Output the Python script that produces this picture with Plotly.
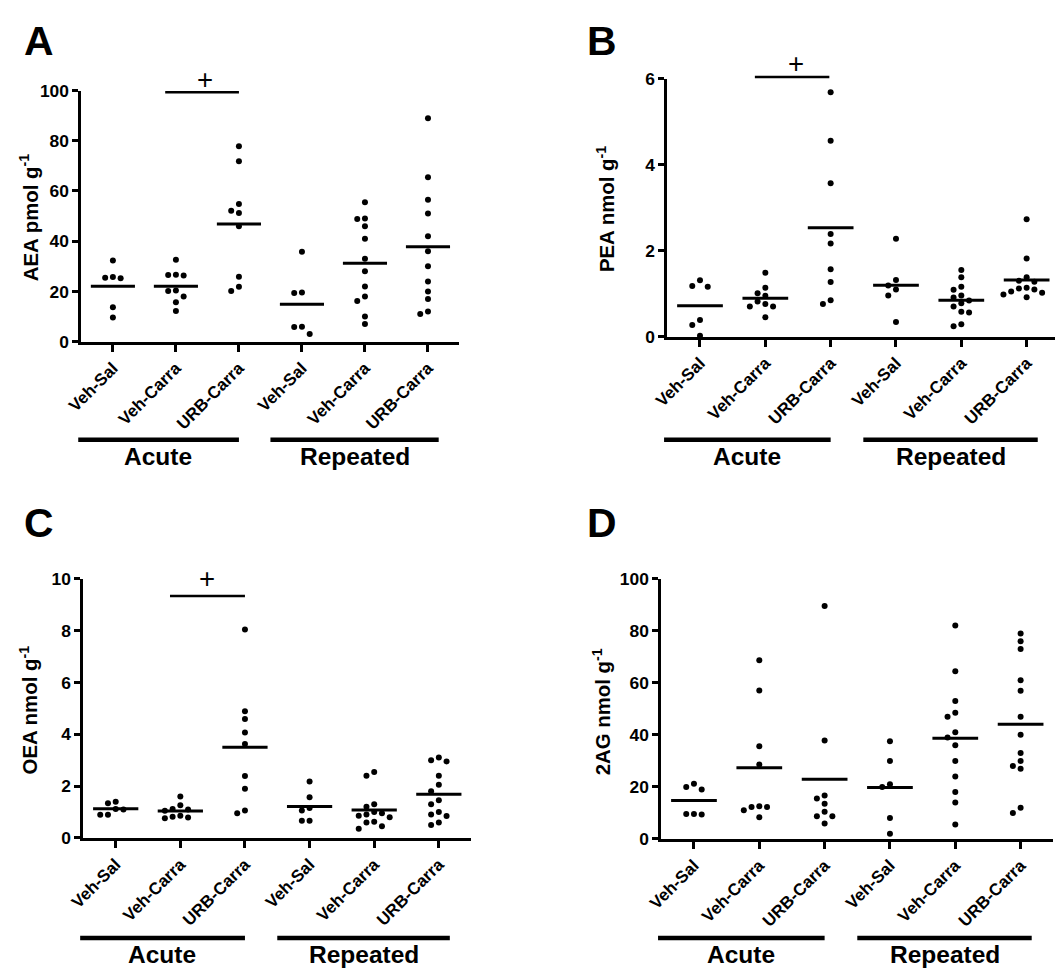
import plotly.graph_objects as go

W, H = 1063, 976
# the page is shown slightly shifted and scaled; positions below are given in
# target screen pixels and converted to figure pixels with this mapping
SHIFT_X, SCALE_X = 23.4, 0.98
SHIFT_Y, SCALE_Y = 18.5, 0.979
FONT = "Liberation Sans, Arial, sans-serif"

# ---------------- data ----------------
categories = ["Veh-Sal", "Veh-Carra", "URB-Carra", "Veh-Sal", "Veh-Carra", "URB-Carra"]
groups = ["Acute", "Repeated"]

aea_acute_vehsal = [32.3, 25.8, 25.5, 25.3, 13.7, 9.6]
aea_acute_vehcarra = [32.6, 26.6, 26.5, 26.3, 20.4, 20.2, 18.0, 15.7, 12.2]
aea_acute_urbcarra = [77.8, 71.8, 54.8, 52.1, 51.2, 46.0, 25.9, 21.9, 20.2]
aea_rep_vehsal = [35.8, 19.6, 19.4, 5.9, 5.8, 3.1]
aea_rep_vehcarra = [55.5, 49.0, 48.8, 46.0, 41.0, 33.0, 28.0, 22.0, 18.0, 16.2, 10.0, 7.0]
aea_rep_urbcarra = [89.0, 65.5, 56.5, 51.0, 42.0, 36.0, 30.0, 24.0, 20.0, 17.0, 12.0, 11.0]

pea_acute_vehsal = [1.31, 1.18, 1.16, 0.39, 0.27, 0.02]
pea_acute_vehcarra = [1.49, 1.14, 1.01, 0.95, 0.82, 0.76, 0.70, 0.70, 0.45]
pea_acute_urbcarra = [5.69, 4.56, 3.57, 2.39, 2.17, 1.57, 1.27, 0.85, 0.76]
pea_rep_vehsal = [2.28, 1.32, 1.19, 1.10, 0.96, 0.34]
pea_rep_vehcarra = [1.55, 1.38, 1.16, 1.09, 0.96, 0.91, 0.84, 0.78, 0.70, 0.58, 0.56, 0.29, 0.24]
pea_rep_urbcarra = [2.73, 1.82, 1.38, 1.30, 1.28, 1.14, 1.12, 1.10, 1.05, 1.02, 0.98, 0.92]

oea_acute_vehsal = [1.40, 1.34, 1.12, 1.10, 0.89, 0.89]
oea_acute_vehcarra = [1.60, 1.26, 1.12, 1.10, 1.05, 0.86, 0.82, 0.79, 0.76]
oea_acute_urbcarra = [8.04, 4.89, 4.59, 4.07, 3.62, 2.39, 1.90, 1.06, 0.95]
oea_rep_vehsal = [2.18, 1.57, 1.15, 1.06, 0.66, 0.66]
oea_rep_vehcarra = [2.54, 2.40, 1.30, 1.20, 1.00, 0.95, 0.90, 0.86, 0.80, 0.62, 0.60, 0.45, 0.35]
oea_rep_urbcarra = [3.10, 3.00, 2.95, 2.40, 2.05, 1.80, 1.45, 1.30, 1.00, 0.90, 0.85, 0.60, 0.50]

ag_acute_vehsal = [21.2, 20.0, 19.0, 9.6, 9.6, 9.4]
ag_acute_vehcarra = [68.7, 57.1, 35.6, 28.6, 12.6, 12.3, 12.3, 11.0, 8.3]
ag_acute_urbcarra = [89.5, 37.8, 16.7, 15.5, 13.5, 10.4, 8.7, 8.7, 5.9]
ag_rep_vehsal = [37.5, 30.0, 21.0, 20.0, 8.0, 2.0]
ag_rep_vehcarra = [82.0, 64.5, 53.0, 48.5, 47.0, 41.0, 39.0, 36.0, 30.0, 24.0, 18.0, 14.0, 5.5]
ag_rep_urbcarra = [79.0, 76.0, 73.0, 61.0, 57.0, 47.0, 40.0, 33.0, 30.0, 28.0, 27.0, 12.0, 10.0]

panel_letters = ["A", "B", "C", "D"]
y_titles = ["AEA pmol g<sup>-1</sup>", "PEA nmol g<sup>-1</sup>",
            "OEA nmol g<sup>-1</sup>", "2AG nmol g<sup>-1</sup>"]
y_max = [100, 6, 10, 100]
y_dtick = [20, 2, 2, 20]
sig_marked = [True, True, True, False]
sig_symbol = "+"

panel_data = [
    [aea_acute_vehsal, aea_acute_vehcarra, aea_acute_urbcarra, aea_rep_vehsal, aea_rep_vehcarra, aea_rep_urbcarra],
    [pea_acute_vehsal, pea_acute_vehcarra, pea_acute_urbcarra, pea_rep_vehsal, pea_rep_vehcarra, pea_rep_urbcarra],
    [oea_acute_vehsal, oea_acute_vehcarra, oea_acute_urbcarra, oea_rep_vehsal, oea_rep_vehcarra, oea_rep_urbcarra],
    [ag_acute_vehsal, ag_acute_vehcarra, ag_acute_urbcarra, ag_rep_vehsal, ag_rep_vehcarra, ag_rep_urbcarra],
]

# ---------------- layout geometry (target screen pixels) ----------------
geom = [
    dict(xl=80.5, xr=456.7, y0=342, yt=91, letter=(38, 41), title=(28, 218), bar_y=440, lab_y=457,
         sig=(0.83, 2.0, 0.993, 1.46, 1.045)),
    dict(xl=663.5, xr=1053.5, y0=337, yt=79.3, letter=(598, 41), title=(602, 210), bar_y=440, lab_y=457,
         sig=(0.84, 1.98, 1.0067, 1.47, 1.06)),
    dict(xl=82.5, xr=468.3, y0=838, yt=579, letter=(38, 523), title=(28, 710), bar_y=938, lab_y=955,
         sig=(0.84, 2.0, 0.934, 1.42, 1.0)),
    dict(xl=657.5, xr=1047.5, y0=839, yt=579, letter=(598, 523), title=(598, 712), bar_y=938, lab_y=955,
         sig=None),
]
XMIN, XMAX = -0.5, 5.5
group_spans = [(-0.55, 2.0), (2.5, 5.17)]
group_centers = [0.72, 3.84]


def px_x(t):
    return ((t - SHIFT_X) / SCALE_X) / W


def px_y(t):
    return 1 - ((t - SHIFT_Y) / SCALE_Y) / H


def fs(size):
    return round(size / SCALE_Y, 1)


def swarm(values, px_per_unit, step_px=7.7, d_px=7.2):
    order = sorted(range(len(values)), key=lambda i: -values[i])
    placed = []
    offs = [0] * len(values)
    for i in order:
        ypx = values[i] * px_per_unit
        for k in [0, -1, 1, -2, 2, -3, 3]:
            if all(not (kk == k and abs(yy - ypx) < d_px) for yy, kk in placed):
                offs[i] = k * step_px
                placed.append((ypx, k))
                break
    return offs


fig = go.Figure()
layout = dict(width=W, height=H, margin=dict(l=0, r=0, t=0, b=0),
              paper_bgcolor="white", plot_bgcolor="white", showlegend=False,
              shapes=[], annotations=[])

for p in range(4):
    g = geom[p]
    sfx = "" if p == 0 else str(p + 1)
    xa, ya = "x" + sfx, "y" + sfx
    cat_px = (g["xr"] - g["xl"]) / (XMAX - XMIN)
    unit_px = (g["y0"] - g["yt"]) / y_max[p]
    ax_common = dict(showline=True, linewidth=3, linecolor="black", ticks="outside",
                     tickwidth=2.5, tickcolor="black", showgrid=False, zeroline=False,
                     mirror=False, fixedrange=True)
    layout["xaxis" + sfx] = dict(
        ax_common, domain=[px_x(g["xl"]), px_x(g["xr"])], range=[XMIN, XMAX], anchor=ya,
        tickvals=list(range(6)), ticktext=categories, tickangle=-45, ticklen=7,
        tickfont=dict(family=FONT, size=fs(16.5), color="black", weight="bold"))
    layout["yaxis" + sfx] = dict(
        ax_common, domain=[px_y(g["y0"]), px_y(g["yt"])], range=[0, y_max[p]], anchor=xa,
        tick0=0, dtick=y_dtick[p], ticklen=6,
        tickfont=dict(family=FONT, size=fs(17), color="black", weight="bold"))

    for c, vals in enumerate(panel_data[p]):
        offs = swarm(vals, unit_px)
        xs = [c + o / cat_px for o in offs]
        fig.add_trace(go.Scatter(x=xs, y=vals, mode="markers", xaxis=xa, yaxis=ya,
                                 marker=dict(color="black", size=6, line=dict(width=0)),
                                 cliponaxis=False, hoverinfo="y"))
        m = sum(vals) / len(vals)
        fig.add_trace(go.Scatter(x=[c - 0.35, c + 0.35], y=[m, m], mode="lines",
                                 xaxis=xa, yaxis=ya, line=dict(color="black", width=3),
                                 hoverinfo="skip"))

    # group bars and labels
    for gi, (a, b) in enumerate(group_spans):
        layout["shapes"].append(dict(
            type="line", xref=xa + " domain", yref="paper",
            x0=(a - XMIN) / (XMAX - XMIN), x1=(b - XMIN) / (XMAX - XMIN),
            y0=px_y(g["bar_y"]), y1=px_y(g["bar_y"]),
            line=dict(color="black", width=4.5)))
        layout["annotations"].append(dict(
            text=groups[gi], xref=xa, yref="paper", x=group_centers[gi], y=px_y(g["lab_y"]),
            showarrow=False, xanchor="center", yanchor="middle",
            font=dict(family=FONT, size=fs(24), color="black", weight="bold")))

    # significance bar with "+"
    if sig_marked[p]:
        x0, x1, yd, xp, yp = g["sig"]
        layout["shapes"].append(dict(
            type="line", xref=xa + " domain", yref=ya + " domain",
            x0=(x0 - XMIN) / (XMAX - XMIN), x1=(x1 - XMIN) / (XMAX - XMIN), y0=yd, y1=yd,
            line=dict(color="black", width=2.5)))
        layout["annotations"].append(dict(
            text=sig_symbol, xref=xa + " domain", yref=ya + " domain",
            x=(xp - XMIN) / (XMAX - XMIN), y=yp, showarrow=False,
            xanchor="center", yanchor="middle",
            font=dict(family=FONT, size=fs(27), color="black")))

    # panel letter
    layout["annotations"].append(dict(
        text=panel_letters[p], xref="paper", yref="paper",
        x=px_x(g["letter"][0]), y=px_y(g["letter"][1]), showarrow=False,
        xanchor="center", yanchor="middle",
        font=dict(family=FONT, size=fs(40), color="black", weight="bold")))
    # y-axis title
    layout["annotations"].append(dict(
        text=y_titles[p], xref="paper", yref="paper",
        x=px_x(g["title"][0]), y=px_y(g["title"][1]), showarrow=False, textangle=-90,
        xanchor="center", yanchor="middle",
        font=dict(family=FONT, size=fs(20), color="black", weight="bold")))

fig.update_layout(**layout)
fig.write_html("out.html")
